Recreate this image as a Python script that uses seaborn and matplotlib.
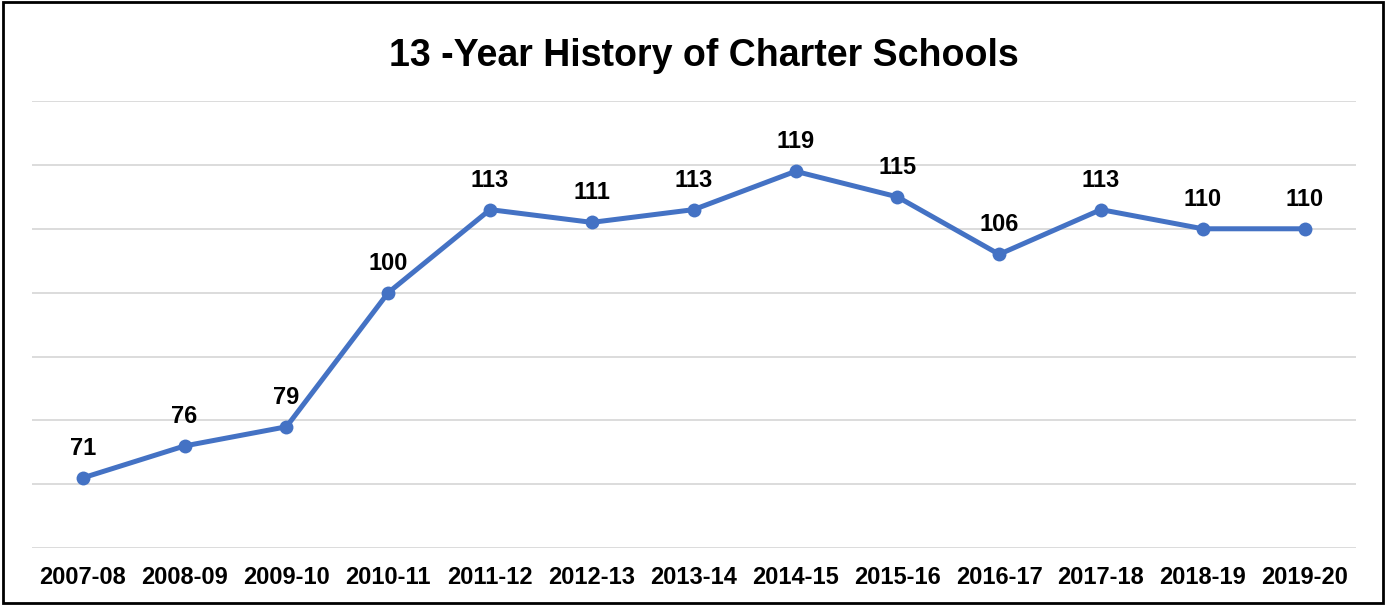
import matplotlib
matplotlib.use("Agg")
import matplotlib.pyplot as plt
import seaborn as sns
import pandas as pd

years = ["2007-08", "2008-09", "2009-10", "2010-11", "2011-12", "2012-13", "2013-14",
         "2014-15", "2015-16", "2016-17", "2017-18", "2018-19", "2019-20"]
schools = [71, 76, 79, 100, 113, 111, 113, 119, 115, 106, 113, 110, 110]

df = pd.DataFrame({"year": years, "schools": schools})

sns.set_style("white")
FONT = "Liberation Sans"
plt.rcParams["font.family"] = FONT
plt.rcParams["text.color"] = "black"

fig = plt.figure(figsize=(13.86, 6.05), dpi=100)
ax = fig.add_axes([0.023, 0.094, 0.955, 0.739])

sns.lineplot(data=df, x="year", y="schools", color="#4472C4", linewidth=3.6,
             marker="o", markersize=10, markeredgewidth=0, sort=False, ax=ax)

# value labels above each point
for i, v in enumerate(schools):
    ax.annotate(str(v), (i, v), xytext=(0, 16.5), textcoords="offset points",
                ha="center", va="baseline", fontsize=17, fontweight="bold",
                family=FONT, color="black")

ax.set_ylim(60, 130)
ax.set_xlim(-0.5, len(years) - 0.5)
ax.set_yticks(range(60, 131, 10))
ax.set_yticklabels([])
ax.grid(axis="y", color="#D9D9D9", linewidth=1.3)
ax.tick_params(axis="both", length=0)
ax.tick_params(axis="x", pad=13)
for lbl in ax.get_xticklabels():
    lbl.set_fontsize(17)
    lbl.set_fontweight("bold")
    lbl.set_family(FONT)
    lbl.set_color("black")
ax.set_xlabel("")
ax.set_ylabel("")
for s in ax.spines.values():
    s.set_visible(False)

fig.text(0.5076, 1 - 66 / 605, "13 -Year History of Charter Schools", fontsize=27,
         fontweight="bold", ha="center", va="baseline", family=FONT, color="black")

# outer border
fig.patches.append(plt.Rectangle((0.002, 0.003), 0.996, 0.994, transform=fig.transFigure,
                                 fill=False, edgecolor="black", linewidth=2))

fig.savefig("out.png", dpi=100)
